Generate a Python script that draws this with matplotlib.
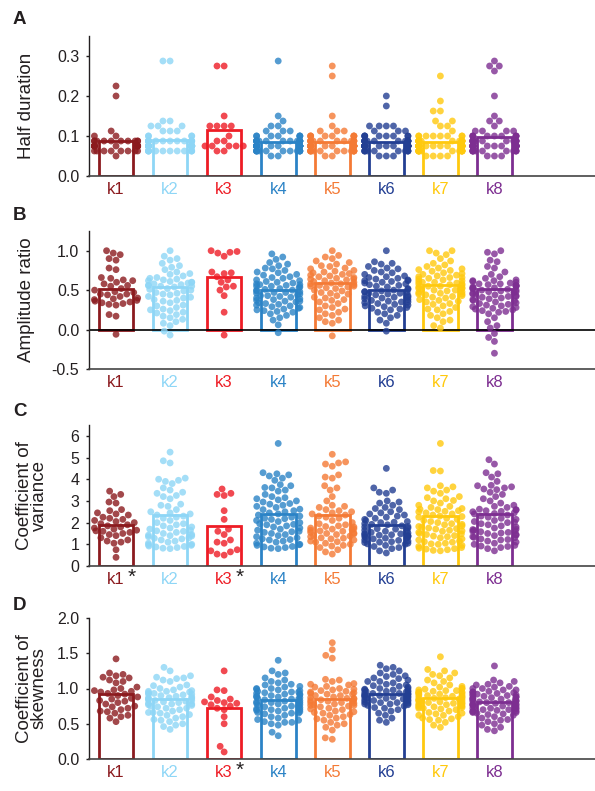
import numpy as np
import matplotlib.pyplot as plt
import seaborn as sns

plt.rcParams["font.family"] = ["Liberation Sans", "DejaVu Sans"]
plt.rcParams["axes.unicode_minus"] = False

groups = ["k1", "k2", "k3", "k4", "k5", "k6", "k7", "k8"]
colors = ["#8B1A1E", "#8ED6F6", "#EE1C25", "#2B83C6",
          "#F47A35", "#233F93", "#FFC90E", "#7D2E91"]
ink = "#231F20"

# half duration, counted in 12.5 ms frames
half_frames = [
    [18, 16, 9, 8, 8, 7, 7, 7, 7, 7, 7, 7, 7, 7, 7, 6, 6, 6, 6, 6, 6, 6, 6, 6, 6, 6, 6,
     5, 5, 5, 5, 5, 5, 5, 5, 4],
    [23, 23, 11, 11, 10, 10, 10, 9, 9, 9, 8, 8, 8, 8, 7, 7, 7, 7, 7, 7, 7, 7, 7, 7, 7, 7,
     7, 7, 6, 6, 6, 6, 6, 6, 6, 6, 6, 6, 6, 6, 6, 6, 6, 6, 6, 6, 6, 6, 5, 5, 5, 5, 5, 5,
     5, 5, 5, 5, 5, 5],
    [22, 22, 12, 10, 10, 10, 10, 8, 7, 7, 6, 6, 6, 6, 6, 5, 5],
    [23, 12, 11, 10, 10, 9, 9, 9, 8, 8, 8, 8, 8, 8, 8, 7, 7, 7, 7, 7, 7, 7, 7, 7, 7, 7, 7,
     7, 7, 7, 7, 6, 6, 6, 6, 6, 6, 6, 6, 6, 6, 6, 6, 6, 6, 6, 6, 6, 6, 6, 6, 6, 6, 6, 6,
     5, 5, 5, 5, 5, 5, 5, 5, 5, 5, 5, 5, 5, 4, 4],
    [22, 20, 12, 10, 9, 9, 9, 8, 8, 8, 8, 8, 8, 8, 8, 7, 7, 7, 7, 7, 7, 7, 7, 7, 7, 7, 7,
     6, 6, 6, 6, 6, 6, 6, 6, 6, 6, 6, 6, 6, 6, 6, 6, 6, 6, 6, 6, 5, 5, 5, 5, 5, 5, 5, 5,
     5, 5, 5, 5, 5, 4, 4],
    [16, 14, 10, 10, 10, 10, 9, 9, 9, 8, 8, 8, 8, 8, 8, 8, 8, 7, 7, 7, 7, 7, 7, 7, 7, 7, 7,
     7, 7, 7, 7, 6, 6, 6, 6, 6, 6, 6, 6, 6, 6, 6, 6, 6, 6, 6, 6, 6, 6, 6, 6, 6, 6, 5, 5,
     5, 5, 5, 5, 5, 5, 5, 5, 4, 4, 4],
    [20, 15, 13, 13, 11, 11, 10, 10, 9, 8, 8, 8, 8, 8, 8, 8, 8, 7, 7, 7, 7, 7, 7, 7, 7, 7,
     7, 7, 7, 7, 7, 6, 6, 6, 6, 6, 6, 6, 6, 6, 6, 6, 6, 6, 6, 6, 6, 6, 6, 6, 6, 6, 6, 6,
     6, 5, 5, 5, 5, 5, 5, 5, 5, 5, 5, 5, 5, 5, 4, 4, 4, 4],
    [23, 22, 22, 21, 16, 12, 11, 11, 10, 9, 9, 9, 9, 8, 8, 8, 8, 8, 8, 8, 8, 8, 7, 7, 7, 7,
     7, 7, 7, 7, 7, 7, 7, 7, 7, 7, 6, 6, 6, 6, 6, 6, 6, 6, 6, 6, 6, 6, 6, 6, 6, 6, 6, 6,
     6, 6, 6, 6, 5, 5, 5, 5, 5, 5, 5, 5, 5, 5, 5, 4, 4, 4],
]
half_bar = [0.088, 0.090, 0.115, 0.084, 0.085, 0.085, 0.085, 0.098]

amp_ratio = [
    [1.0, 0.97, 0.95, 0.9, 0.88, 0.78, 0.76, 0.66, 0.65, 0.63, 0.62, 0.6, 0.58, 0.56,
     0.55, 0.52, 0.5, 0.48, 0.47, 0.45, 0.45, 0.44, 0.42, 0.4, 0.39, 0.38, 0.37, 0.36,
     0.35, 0.34, 0.33, 0.32, 0.31, 0.19, 0.17, -0.06],
    [1.0, 0.93, 0.9, 0.88, 0.84, 0.81, 0.79, 0.76, 0.73, 0.71, 0.7, 0.68, 0.66, 0.65,
     0.64, 0.63, 0.62, 0.61, 0.6, 0.59, 0.58, 0.57, 0.56, 0.56, 0.55, 0.55, 0.54, 0.52,
     0.51, 0.5, 0.49, 0.47, 0.46, 0.45, 0.44, 0.42, 0.41, 0.4, 0.38, 0.37, 0.36, 0.34,
     0.31, 0.3, 0.28, 0.26, 0.25, 0.24, 0.22, 0.21, 0.19, 0.17, 0.15, 0.13, 0.1, 0.08,
     0.05, -0.02, -0.07, 0.6],
    [1.0, 0.99, 0.98, 0.97, 0.93, 0.73, 0.72, 0.71, 0.67, 0.63, 0.6, 0.55, 0.54, 0.5,
     0.43, 0.22, -0.07],
    [0.96, 0.92, 0.89, 0.85, 0.83, 0.81, 0.78, 0.77, 0.75, 0.73, 0.72, 0.7, 0.69, 0.67,
     0.66, 0.65, 0.63, 0.62, 0.61, 0.6, 0.59, 0.58, 0.57, 0.56, 0.55, 0.55, 0.54, 0.53,
     0.52, 0.51, 0.5, 0.5, 0.49, 0.48, 0.47, 0.46, 0.45, 0.44, 0.43, 0.42, 0.41, 0.4,
     0.39, 0.38, 0.37, 0.36, 0.36, 0.35, 0.34, 0.33, 0.32, 0.31, 0.3, 0.29, 0.28, 0.27,
     0.26, 0.25, 0.24, 0.23, 0.22, 0.2, 0.18, 0.15, 0.12, 0.06, -0.04, 0.57, 0.47, 0.43],
    [1.0, 0.94, 0.92, 0.9, 0.87, 0.85, 0.83, 0.81, 0.8, 0.78, 0.77, 0.75, 0.74, 0.73,
     0.72, 0.7, 0.69, 0.68, 0.67, 0.66, 0.65, 0.64, 0.63, 0.62, 0.61, 0.6, 0.59, 0.58,
     0.57, 0.56, 0.55, 0.54, 0.53, 0.52, 0.5, 0.49, 0.47, 0.46, 0.45, 0.43, 0.41, 0.4,
     0.38, 0.37, 0.35, 0.33, 0.3, 0.28, 0.26, 0.25, 0.22, 0.2, 0.18, 0.15, 0.12, 0.1,
     0.08, -0.08, 0.71, 0.64, 0.58, 0.55],
    [1.0, 0.86, 0.84, 0.83, 0.8, 0.78, 0.77, 0.75, 0.73, 0.72, 0.7, 0.68, 0.67, 0.66,
     0.65, 0.64, 0.63, 0.62, 0.61, 0.6, 0.59, 0.58, 0.57, 0.55, 0.54, 0.52, 0.51, 0.5,
     0.49, 0.48, 0.47, 0.46, 0.46, 0.45, 0.44, 0.43, 0.42, 0.41, 0.4, 0.39, 0.38, 0.37,
     0.36, 0.35, 0.34, 0.33, 0.32, 0.31, 0.3, 0.29, 0.28, 0.27, 0.26, 0.25, 0.22, 0.2,
     0.18, 0.15, 0.12, 0.08, -0.02, 0.62, 0.56, 0.48, 0.41, 0.35],
    [1.0, 1.0, 0.97, 0.95, 0.9, 0.87, 0.84, 0.82, 0.8, 0.78, 0.77, 0.76, 0.75, 0.74,
     0.72, 0.71, 0.7, 0.69, 0.68, 0.67, 0.66, 0.65, 0.64, 0.63, 0.62, 0.61, 0.6, 0.59,
     0.58, 0.57, 0.56, 0.55, 0.54, 0.53, 0.52, 0.51, 0.5, 0.49, 0.48, 0.47, 0.46, 0.45,
     0.44, 0.43, 0.42, 0.41, 0.4, 0.38, 0.37, 0.36, 0.35, 0.33, 0.32, 0.3, 0.28, 0.26,
     0.25, 0.23, 0.2, 0.18, 0.15, 0.12, 0.1, 0.05, 0.02, 0.66, 0.6, 0.55, 0.5, 0.45,
     0.58, 0.52],
    [1.0, 0.98, 0.96, 0.88, 0.86, 0.8, 0.78, 0.73, 0.7, 0.67, 0.65, 0.63, 0.62, 0.61,
     0.6, 0.59, 0.58, 0.57, 0.56, 0.56, 0.55, 0.54, 0.53, 0.52, 0.52, 0.51, 0.5, 0.5,
     0.49, 0.48, 0.47, 0.46, 0.45, 0.44, 0.43, 0.42, 0.41, 0.4, 0.39, 0.38, 0.37, 0.36,
     0.35, 0.34, 0.33, 0.32, 0.31, 0.3, 0.29, 0.28, 0.27, 0.26, 0.25, 0.24, 0.23, 0.22,
     0.2, 0.15, 0.1, 0.05, 0.02, -0.05, -0.1, -0.15, -0.3, 0.62, 0.58, 0.55, 0.53, 0.48,
     0.45, 0.42],
]
amp_bar = [0.513, 0.534, 0.664, 0.504, 0.588, 0.504, 0.559, 0.513]

cv_vals = [
    [3.45, 3.3, 3.2, 2.95, 2.9, 2.6, 2.55, 2.45, 2.4, 2.35, 2.25, 2.2, 2.15, 2.1, 2.05,
     2.0, 1.95, 1.9, 1.85, 1.8, 1.75, 1.7, 1.65, 1.6, 1.55, 1.5, 1.45, 1.4, 1.3, 1.2,
     1.15, 1.1, 1.05, 0.75, 0.4, 1.62],
    [5.25, 4.85, 4.75, 4.05, 4.0, 3.95, 3.9, 3.8, 3.6, 3.5, 3.4, 3.35, 3.25, 3.2, 3.1,
     2.85, 2.8, 2.75, 2.6, 2.5, 2.45, 2.4, 2.35, 2.3, 2.25, 2.2, 2.1, 2.0, 1.95, 1.9,
     1.85, 1.8, 1.75, 1.7, 1.65, 1.6, 1.55, 1.5, 1.45, 1.4, 1.38, 1.35, 1.3, 1.28, 1.25,
     1.2, 1.15, 1.1, 1.05, 1.0, 0.98, 0.95, 0.92, 0.9, 0.88, 0.85, 0.82, 0.8, 1.42, 1.62],
    [3.55, 3.35, 3.3, 3.25, 2.55, 2.15, 1.7, 1.6, 1.45, 1.2, 1.1, 1.05, 0.75, 0.7, 0.65,
     0.55, 0.5],
    [5.65, 4.3, 4.25, 4.2, 4.15, 4.05, 3.95, 3.75, 3.7, 3.6, 3.5, 3.45, 3.3, 3.2, 3.15,
     3.1, 3.05, 3.0, 2.95, 2.85, 2.8, 2.75, 2.7, 2.6, 2.55, 2.5, 2.45, 2.4, 2.35, 2.3,
     2.25, 2.2, 2.15, 2.1, 2.05, 2.0, 1.95, 1.9, 1.85, 1.8, 1.75, 1.7, 1.65, 1.6, 1.55,
     1.5, 1.45, 1.4, 1.35, 1.3, 1.25, 1.2, 1.15, 1.1, 1.05, 1.0, 0.98, 0.95, 0.9, 0.88,
     0.85, 0.82, 0.8, 2.62, 2.18, 1.92, 1.58, 1.22, 3.62, 2.88],
    [5.15, 4.8, 4.75, 4.7, 4.6, 4.2, 4.1, 4.05, 3.7, 3.6, 3.5, 3.2, 3.0, 2.8, 2.75, 2.7,
     2.6, 2.5, 2.45, 2.4, 2.35, 2.3, 2.2, 2.1, 2.0, 1.95, 1.9, 1.85, 1.8, 1.75, 1.7,
     1.68, 1.65, 1.6, 1.55, 1.5, 1.48, 1.45, 1.4, 1.35, 1.3, 1.25, 1.2, 1.15, 1.1, 1.05,
     1.0, 0.95, 0.85, 0.75, 0.65, 0.55, 1.72, 1.52, 1.38, 1.62, 2.55, 2.25, 1.12, 1.28,
     0.92, 1.82],
    [4.5, 3.6, 3.5, 3.4, 3.35, 3.0, 2.95, 2.9, 2.8, 2.7, 2.65, 2.6, 2.5, 2.45, 2.4, 2.35,
     2.3, 2.25, 2.2, 2.15, 2.1, 2.05, 2.0, 1.95, 1.9, 1.85, 1.8, 1.75, 1.7, 1.65, 1.6,
     1.55, 1.5, 1.48, 1.45, 1.42, 1.4, 1.38, 1.35, 1.32, 1.3, 1.28, 1.25, 1.2, 1.15,
     1.12, 1.1, 1.08, 1.05, 1.02, 1.0, 0.95, 0.9, 0.85, 0.8, 0.7, 0.6, 1.52, 1.62, 1.72,
     1.82, 1.44, 1.36, 1.18, 2.02, 1.92],
    [5.65, 4.4, 4.38, 3.7, 3.65, 3.6, 3.5, 3.45, 3.35, 3.2, 3.15, 3.1, 3.0, 2.9, 2.8,
     2.75, 2.7, 2.65, 2.6, 2.55, 2.5, 2.45, 2.4, 2.35, 2.3, 2.25, 2.2, 2.15, 2.1, 2.05,
     2.0, 1.95, 1.9, 1.85, 1.8, 1.75, 1.7, 1.65, 1.6, 1.55, 1.5, 1.45, 1.4, 1.35, 1.3,
     1.25, 1.2, 1.15, 1.1, 1.05, 1.0, 0.95, 0.9, 0.85, 0.8, 0.75, 0.72, 0.7, 1.62, 1.72,
     1.82, 1.48, 1.38, 2.62, 2.52, 2.28, 1.92, 0.82, 0.78, 1.02, 1.12, 3.02],
    [4.9, 4.7, 4.3, 4.25, 4.1, 3.9, 3.7, 3.65, 3.6, 3.55, 3.4, 3.3, 3.2, 3.1, 3.0, 2.9,
     2.8, 2.75, 2.7, 2.6, 2.55, 2.5, 2.45, 2.4, 2.35, 2.3, 2.25, 2.2, 2.15, 2.1, 2.05,
     2.0, 1.95, 1.9, 1.85, 1.8, 1.75, 1.7, 1.65, 1.6, 1.55, 1.5, 1.45, 1.4, 1.35, 1.3,
     1.25, 1.2, 1.15, 1.1, 1.05, 1.0, 0.95, 0.9, 0.85, 0.8, 0.7, 3.72, 3.52, 2.62, 2.58,
     2.42, 1.68, 1.62, 1.58, 1.52, 1.42, 1.32, 1.22, 0.92, 2.02, 2.52],
]
cv_bar = [1.88, 2.34, 1.85, 2.38, 2.35, 1.89, 2.29, 2.40]

skew_vals = [
    [1.42, 1.22, 1.2, 1.18, 1.16, 1.15, 1.12, 1.1, 1.08, 1.02, 1.0, 0.98, 0.96, 0.95,
     0.93, 0.92, 0.9, 0.88, 0.86, 0.85, 0.83, 0.82, 0.8, 0.78, 0.75, 0.74, 0.72, 0.7,
     0.68, 0.67, 0.65, 0.62, 0.6, 0.58, 0.53, 0.97],
    [1.3, 1.25, 1.18, 1.16, 1.15, 1.14, 1.12, 1.1, 1.05, 1.04, 1.02, 1.0, 0.98, 0.97,
     0.96, 0.95, 0.94, 0.93, 0.92, 0.91, 0.9, 0.89, 0.88, 0.87, 0.86, 0.85, 0.84, 0.83,
     0.82, 0.81, 0.8, 0.79, 0.78, 0.77, 0.76, 0.75, 0.74, 0.72, 0.7, 0.68, 0.66, 0.65,
     0.63, 0.62, 0.6, 0.58, 0.56, 0.55, 0.53, 0.5, 0.48, 0.46, 0.42, 0.87, 0.83, 0.78,
     0.92, 0.96, 0.72, 0.66],
    [1.25, 0.98, 0.97, 0.88, 0.85, 0.83, 0.81, 0.8, 0.79, 0.77, 0.75, 0.72, 0.7, 0.6,
     0.5, 0.18, 0.1],
    [1.4, 1.25, 1.22, 1.2, 1.15, 1.12, 1.1, 1.08, 1.06, 1.05, 1.03, 1.02, 1.0, 0.99,
     0.98, 0.97, 0.96, 0.95, 0.94, 0.93, 0.92, 0.91, 0.9, 0.89, 0.88, 0.87, 0.86, 0.85,
     0.84, 0.83, 0.82, 0.81, 0.8, 0.79, 0.78, 0.77, 0.76, 0.75, 0.74, 0.73, 0.72, 0.71,
     0.7, 0.69, 0.68, 0.67, 0.66, 0.65, 0.64, 0.62, 0.6, 0.58, 0.56, 0.55, 0.53, 0.52,
     0.52, 0.5, 0.48, 0.38, 0.33, 0.92, 0.88, 0.85, 0.8, 0.75, 0.7, 0.65, 0.95, 1.0],
    [1.65, 1.55, 1.47, 1.43, 1.13, 1.12, 1.1, 1.07, 1.05, 1.03, 1.02, 1.0, 0.98, 0.96,
     0.95, 0.94, 0.93, 0.92, 0.9, 0.88, 0.87, 0.86, 0.85, 0.84, 0.83, 0.82, 0.8, 0.79,
     0.78, 0.77, 0.76, 0.75, 0.74, 0.72, 0.7, 0.68, 0.67, 0.65, 0.63, 0.62, 0.6, 0.58,
     0.55, 0.52, 0.5, 0.48, 0.45, 0.41, 0.3, 0.28, 0.9, 0.86, 0.82, 0.97, 1.06, 0.71,
     0.66, 0.57, 0.8, 0.92, 0.99, 0.76],
    [1.33, 1.3, 1.28, 1.25, 1.22, 1.2, 1.18, 1.17, 1.15, 1.12, 1.1, 1.08, 1.06, 1.05,
     1.03, 1.02, 1.0, 0.99, 0.98, 0.97, 0.96, 0.95, 0.94, 0.93, 0.92, 0.91, 0.9, 0.89,
     0.88, 0.87, 0.86, 0.85, 0.84, 0.83, 0.82, 0.81, 0.8, 0.79, 0.78, 0.77, 0.76, 0.75,
     0.73, 0.72, 0.7, 0.68, 0.65, 0.62, 0.58, 0.55, 0.52, 0.95, 0.93, 0.9, 0.88, 1.0,
     1.04, 0.86, 0.84, 0.98, 1.1, 0.92, 0.8, 0.96, 1.14, 0.78],
    [1.45, 1.27, 1.25, 1.22, 1.2, 1.18, 1.15, 1.12, 1.1, 1.08, 1.05, 1.03, 1.02, 1.0,
     0.99, 0.98, 0.97, 0.96, 0.95, 0.94, 0.93, 0.92, 0.91, 0.9, 0.89, 0.88, 0.87, 0.86,
     0.85, 0.84, 0.83, 0.82, 0.81, 0.8, 0.79, 0.78, 0.77, 0.76, 0.75, 0.74, 0.73, 0.72,
     0.71, 0.7, 0.68, 0.66, 0.64, 0.62, 0.6, 0.58, 0.57, 0.56, 0.55, 0.52, 0.48, 0.45,
     0.9, 0.88, 0.86, 0.84, 0.82, 0.8, 0.78, 0.95, 0.93, 0.76, 0.74, 0.72, 0.65, 1.0,
     0.97, 0.62],
    [1.32, 1.12, 1.1, 1.08, 1.06, 1.05, 1.03, 1.02, 1.0, 0.98, 0.96, 0.95, 0.94, 0.93,
     0.92, 0.91, 0.9, 0.89, 0.88, 0.87, 0.86, 0.85, 0.84, 0.83, 0.82, 0.81, 0.8, 0.79,
     0.78, 0.77, 0.76, 0.75, 0.74, 0.73, 0.72, 0.71, 0.7, 0.69, 0.68, 0.67, 0.66, 0.65,
     0.64, 0.63, 0.62, 0.6, 0.58, 0.56, 0.55, 0.53, 0.5, 0.48, 0.45, 0.42, 0.4, 0.88,
     0.86, 0.84, 0.82, 0.8, 0.78, 0.76, 0.74, 0.9, 0.92, 0.72, 0.7, 0.95, 0.68, 0.66,
     1.0, 0.98],
]
skew_bar = [0.926, 0.855, 0.727, 0.840, 0.846, 0.917, 0.860, 0.808]

half_duration = [np.array(f) / 80 for f in half_frames]

W, H = 595, 791
fig = plt.figure(figsize=(W / 100, H / 100), dpi=100)

# letter, values, bar heights, y label, label x (axes coords), y limits, y ticks,
# tick format, starred groups, axes top/bottom in pixels, letter baseline in pixels
panels = [
    ("A", half_duration, half_bar, "Half duration", -0.107, (0, 0.35),
     [0, 0.1, 0.2, 0.3], "{:.1f}", [], (36, 176), 23.5),
    ("B", amp_ratio, amp_bar, "Amplitude ratio", -0.107, (-0.5, 1.25),
     [-0.5, 0, 0.5, 1.0], "{:.1f}", [], (231, 369), 220),
    ("C", cv_vals, cv_bar, "Coefficient of\nvariance", -0.081, (0, 6.5),
     [0, 1, 2, 3, 4, 5, 6], "{:.0f}", [0, 2], (425, 566), 416),
    ("D", skew_vals, skew_bar, "Coefficient of\nskewness", -0.081, (0, 2.0),
     [0, 0.5, 1.0, 1.5, 2.0], "{:.1f}", [2], (618, 759), 610),
]

for (letter, vals, bars, ylabel, label_x, ylim, yticks, fmt, starred,
     (top, bottom), base) in panels:
    ax = fig.add_axes([89 / W, 1 - bottom / H, (W - 89) / W, (bottom - top) / H])

    xs = np.concatenate([[g] * len(v) for g, v in zip(groups, vals)])
    ys = np.concatenate(vals)
    sns.swarmplot(x=xs, y=ys, hue=xs, order=groups, hue_order=groups,
                  palette=colors, size=4.9, alpha=0.8, linewidth=0,
                  legend=False, warn_thresh=1, zorder=2, ax=ax)

    ax.bar(range(len(groups)), bars, width=0.64, facecolor="none",
           edgecolor=colors, linewidth=2, zorder=1)

    if ylim[0] < 0:
        ax.axhline(0, color="black", linewidth=1.2, zorder=1.5)

    ax.set_xlim(-0.5, 8.86)
    ax.set_ylim(*ylim)
    ax.set_yticks(yticks)
    ax.set_yticklabels([fmt.format(t) for t in yticks])
    ax.set_xticks(range(len(groups)))
    ax.set_xticklabels(groups)
    for lab, c in zip(ax.get_xticklabels(), colors):
        lab.set_color(c)

    ax.tick_params(axis="x", length=0, pad=4, labelsize=12)
    ax.tick_params(axis="y", direction="out", length=2.5, width=1, pad=4.5,
                   labelsize=11.5, colors=ink)
    for side in ("top", "right"):
        ax.spines[side].set_visible(False)
    ax.spines["left"].set_color(ink)
    ax.spines["left"].set_linewidth(1)
    ax.spines["bottom"].set_color("#444444")
    ax.spines["bottom"].set_linewidth(1.2)

    ax.set_xlabel("")
    ax.set_ylabel(ylabel, fontsize=13.5, color=ink, linespacing=0.85)
    ax.yaxis.set_label_coords(label_x, 0.5)

    for i in starred:
        ax.annotate("*", xy=(i, 0), xycoords=("data", "axes fraction"),
                    xytext=(16, -17), textcoords="offset pixels",
                    ha="center", va="baseline", fontsize=15, color=ink)

    fig.text(13 / W, 1 - base / H, letter, fontsize=13.5, fontweight="bold",
             color=ink, ha="left", va="baseline")

fig.savefig("out.png", dpi=100)
